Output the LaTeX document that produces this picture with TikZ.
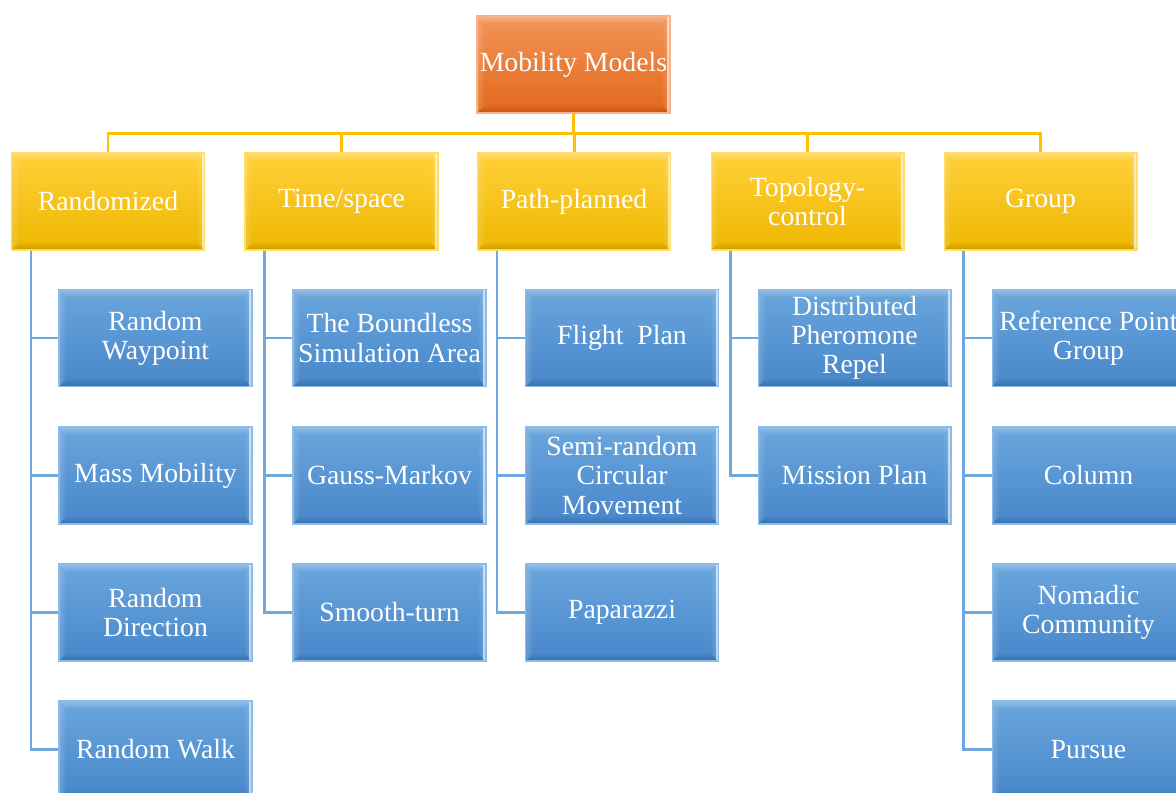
\documentclass[tikz,border=0pt]{standalone}
\usepackage{fontspec}
\setmainfont{Liberation Serif}
\usetikzlibrary{calc}

\definecolor{orgTop}{HTML}{F29558}
\definecolor{orgBot}{HTML}{E3681C}
\definecolor{orgEdge}{HTML}{F7B48A}
\definecolor{ylwTop}{HTML}{FFD03A}
\definecolor{ylwBot}{HTML}{EEB700}
\definecolor{ylwEdge}{HTML}{FFDD66}
\definecolor{bluTop}{HTML}{6AA6DD}
\definecolor{bluBot}{HTML}{4786CA}
\definecolor{bluEdge}{HTML}{8CBDEA}
\definecolor{busCol}{HTML}{FFC000}
\definecolor{linkCol}{HTML}{6FA8DC}

% bevelled tile: soft light bands at top/left/right, faint darker bottom band
\def\bnw{path picture bounding box.north west}
\def\bne{path picture bounding box.north east}
\def\bsw{path picture bounding box.south west}
\def\bse{path picture bounding box.south east}
\tikzset{
  bevel/.style={path picture={
    \foreach \w/\o in {4/.08,3/.08,2/.08,1/.08}{
      \fill[white,opacity=\o] (\bnw) -- (\bne) -- ([xshift=-\w pt,yshift=-\w pt]\bne)
           -- ([xshift=\w pt,yshift=-\w pt]\bnw) -- cycle;
      \fill[white,opacity=\o*.6] (\bnw) -- ([xshift=\w pt,yshift=-\w pt]\bnw)
           -- ([xshift=\w pt,yshift=\w pt]\bsw) -- (\bsw) -- cycle;
      \fill[white,opacity=\o*.6] (\bne) -- (\bse) -- ([xshift=-\w pt,yshift=\w pt]\bse)
           -- ([xshift=-\w pt,yshift=-\w pt]\bne) -- cycle;
      \fill[black,opacity=\o*.4] (\bsw) -- (\bse) -- ([xshift=-\w pt,yshift=\w pt]\bse)
           -- ([xshift=\w pt,yshift=\w pt]\bsw) -- cycle;
    }
    \draw[white,opacity=.6,line width=1pt] ([xshift=-1pt]\bne) -- ([xshift=-1pt]\bse);
  }},
  tile/.style={rectangle, minimum width=3.86cm, minimum height=1.94cm,
    inner sep=0pt, align=center, text=white,
    font=\fontsize{15.8}{16.6}\selectfont, line width=0.6pt, bevel},
  rootbox/.style={tile, draw=orgEdge, top color=orgTop, bottom color=orgBot},
  catbox/.style={tile, draw=ylwEdge, top color=ylwTop, bottom color=ylwBot},
  leafbox/.style={tile, draw=bluEdge, top color=bluTop, bottom color=bluBot},
  busline/.style={draw=busCol, line width=1.7pt},
  linkline/.style={draw=linkCol, line width=1.2pt},
}

\begin{document}
\begin{tikzpicture}[x=0.02cm, y=-0.02cm]
\useasboundingbox (0,0) rectangle (1176,793);
\clip (0,0) rectangle (1176,793);

% root
\node[rootbox] (root) at (573.5,64.5) {Mobility Models};

% categories
\node[catbox] (c1) at (108,201.5)   {Randomized};
\node[catbox] (c2) at (341.5,201.5) {Time/space};
\node[catbox] (c3) at (574,201.5)   {Path-planned};
\node[catbox] (c4) at (807.5,201.5) {Topology-\\control};
\node[catbox] (c5) at (1040.5,201.5){Group};

% bus from root to categories
\foreach \c in {c1,c2,c3,c4,c5}
  \draw[busline] (root.south) -- ++(0,20) -| (\c.north);

% Randomized
\node[leafbox] (l11) at (155.5,338)   {Random\\Waypoint};
\node[leafbox] (l12) at (155.5,475.5) {Mass Mobility};
\node[leafbox] (l13) at (155.5,612.5) {Random\\Direction};
\node[leafbox] (l14) at (155.5,749.5) {Random Walk};

% Time/space
\node[leafbox] (l21) at (389.5,338)   {The Boundless\\Simulation Area};
\node[leafbox] (l22) at (389.5,475.5) {Gauss-Markov};
\node[leafbox] (l23) at (389.5,612.5) {Smooth-turn};

% Path-planned
\node[leafbox] (l31) at (622,338)   {Flight\ \ Plan};
\node[leafbox] (l32) at (622,475.5) {Semi-random\\Circular\\Movement};
\node[leafbox] (l33) at (622,612.5) {Paparazzi};

% Topology-control
\node[leafbox] (l41) at (854.5,338)   {Distributed\\Pheromone\\Repel};
\node[leafbox] (l42) at (854.5,475.5) {Mission Plan};

% Group
\node[leafbox] (l51) at (1088.5,338)   {Reference Point\\Group};
\node[leafbox] (l52) at (1088.5,475.5) {Column};
\node[leafbox] (l53) at (1088.5,612.5) {Nomadic\\Community};
\node[leafbox] (l54) at (1088.5,749.5) {Pursue};

% links from each category to its models
\foreach \c/\list in {c1/{l11,l12,l13,l14}, c2/{l21,l22,l23}, c3/{l31,l32,l33},
                      c4/{l41,l42}, c5/{l51,l52,l53,l54}}
  \foreach \l in \list
    \draw[linkline] ($(\c.south west)+(20,0)$) |- (\l.west);
\end{tikzpicture}
\end{document}
